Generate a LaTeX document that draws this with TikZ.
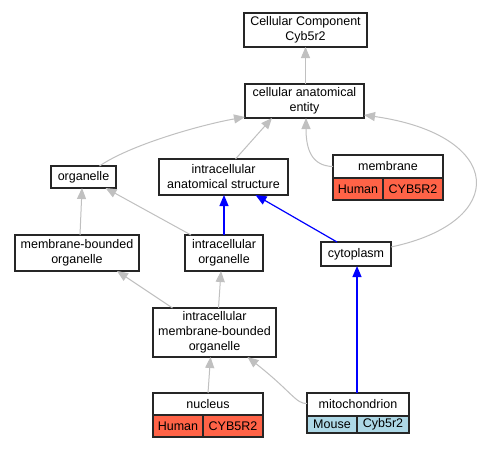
\documentclass[tikz,border=0pt]{standalone}
\usepackage{fontspec}
\setmainfont{Liberation Sans}
\usetikzlibrary{arrows.meta}
\definecolor{edgegray}{HTML}{C0C0C0}
\definecolor{redcell}{HTML}{FF6347}
\definecolor{bluecell}{HTML}{ADD8E6}
\tikzset{
  box/.style={draw=black!85, line width=1.1pt, fill=white, inner sep=0pt, outer sep=0pt,
    align=center, font=\fontsize{12.5pt}{15pt}\selectfont},
  gedge/.style={draw=edgegray, line width=1pt, -{Triangle[length=11pt,width=9pt]}},
  bedge/.style={draw=blue, line width=1.2pt, -{Triangle[length=11pt,width=9pt]}},
}
\begin{document}
\begin{tikzpicture}[x=1pt,y=-1pt]
\useasboundingbox (0,0) rectangle (481,448);
\fill[white] (0,0) rectangle (481,448);
% nodes
\node[box, minimum width=123pt, minimum height=34pt] (cc) at (305.5,30) {Cellular Component\\Cyb5r2};
\node[box, minimum width=119pt, minimum height=34pt] (cae) at (304.5,101) {cellular anatomical\\entity};
\node[box, minimum width=65pt, minimum height=22pt] (org) at (83.5,177) {organelle};
\node[box, minimum width=129pt, minimum height=36pt] (ias) at (223.5,177) {intracellular\\anatomical structure};
\node[box, minimum width=110pt, minimum height=23pt] (mem) at (388,166.5) {membrane};
\node[box, fill=redcell, minimum width=50pt, minimum height=22pt] (memh) at (358,189) {Human};
\node[box, fill=redcell, minimum width=60pt, minimum height=22pt] (memg) at (413,189) {CYB5R2};
\node[box, minimum width=124pt, minimum height=36pt] (mbo) at (77,253) {membrane-bounded\\organelle};
\node[box, minimum width=78pt, minimum height=36pt] (io) at (224,253) {intracellular\\organelle};
\node[box, minimum width=70pt, minimum height=24pt] (cyt) at (356,254) {cytoplasm};
\node[box, minimum width=123pt, minimum height=49pt] (imbo) at (214.5,332.5) {intracellular\\membrane-bounded\\organelle};
\node[box, minimum width=110pt, minimum height=22pt] (nuc) at (208,404) {nucleus};
\node[box, fill=redcell, minimum width=50pt, minimum height=22pt] (nuch) at (178,426) {Human};
\node[box, fill=redcell, minimum width=60pt, minimum height=22pt] (nucg) at (233,426) {CYB5R2};
\node[box, minimum width=102pt, minimum height=23pt] (mito) at (358,404.5) {mitochondrion};
\node[box, fill=bluecell, minimum width=50pt, minimum height=17pt] (mitom) at (332,424.5) {Mouse};
\node[box, fill=bluecell, minimum width=52pt, minimum height=17pt] (mitog) at (383,424.5) {Cyb5r2};
% edges
\begin{scope}[on background layer/.style={}]
\draw[gedge] (cae.north -| cc.south) -- (cc.south);
\draw[gedge] ([xshift=16pt]org.north) .. controls (130,145) and (200,125) .. ([yshift=1pt]cae.south west);
\draw[gedge] ([xshift=12pt]ias.north) -- ([xshift=-32.5pt]cae.south);
\draw[gedge] (mem.west) .. controls (312,166) and (306,150) .. ([xshift=1.5pt]cae.south);
\draw[gedge] ([yshift=7pt]cyt.east) .. controls (510,222) and (505,135) .. ([yshift=-14pt]cae.east);
\draw[gedge] ([xshift=3pt]mbo.north) -- ([xshift=-1.5pt]org.south);
\draw[gedge] ([xshift=-33pt]io.north) -- ([xshift=22pt]org.south);
\draw[bedge] (io.north) -- (io.north |- ias.south);
\draw[bedge] ([xshift=-19pt]cyt.north) -- ([xshift=32pt]ias.south);
\draw[gedge] ([xshift=-42pt]imbo.north) -- ([xshift=40pt]mbo.south);
\draw[gedge] ([xshift=4pt]imbo.north) -- ([xshift=-3pt]io.south);
\draw[bedge] ([xshift=-1pt]mito.north) -- ([xshift=-1pt]mito.north |- cyt.south);
\draw[gedge] (nuc.north) -- ([xshift=-4pt]imbo.south);
\draw[gedge] ([yshift=1pt]mito.west) .. controls (296,404) and (292,392) .. ([xshift=33pt]imbo.south);
\end{scope}
\end{tikzpicture}
\end{document}
